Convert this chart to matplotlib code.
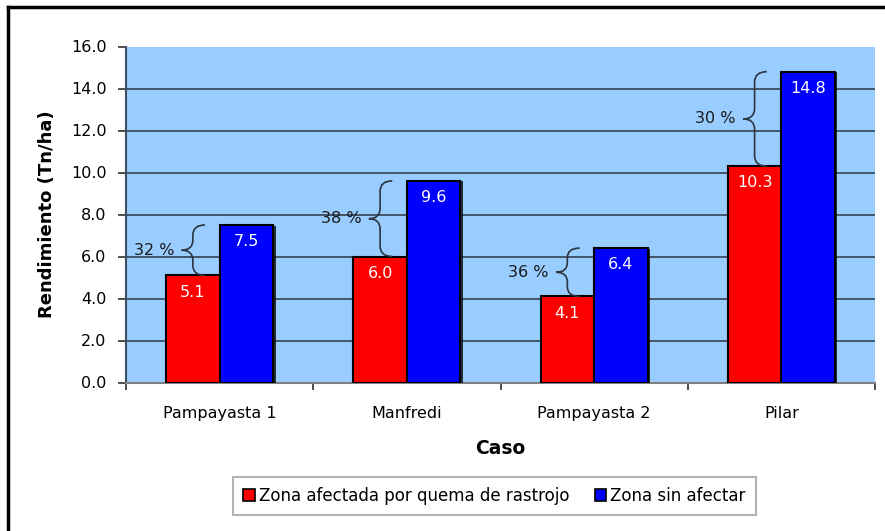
import matplotlib
matplotlib.use("Agg")
import matplotlib.pyplot as plt
from matplotlib.path import Path
from matplotlib.patches import PathPatch, Patch
from matplotlib.lines import Line2D
import matplotlib.patheffects as pe
import numpy as np

plt.rcParams['font.family'] = ['DejaVu Sans']

categories = ["Pampayasta 1", "Manfredi", "Pampayasta 2", "Pilar"]
afectada = [5.1, 6.0, 4.1, 10.3]
sin_afectar = [7.5, 9.6, 6.4, 14.8]
diferencias = ["32 %", "38 %", "36 %", "30 %"]
series_names = ["Zona afectada por quema de rastrojo", "Zona sin afectar"]
y_ticks = [0, 2, 4, 6, 8, 10, 12, 14, 16]

W, H = 885, 531
FS = 11.5
fig = plt.figure(figsize=(W / 100, H / 100), dpi=100)
fig.patch.set_facecolor('white')

ax = fig.add_axes([126 / W, 1 - 382.5 / H, (875 - 126) / W, (382.5 - 46.5) / H])
ax.set_facecolor('#99CCFF')

x = np.arange(len(categories))
w = 0.286
shadow = [pe.SimplePatchShadow(offset=(1.8, -0.4), shadow_rgbFace='#101010', alpha=0.85), pe.Normal()]
b1 = ax.bar(x - w / 2, afectada, w, color='#FF0000', edgecolor='black', linewidth=1.5, zorder=3)
b2 = ax.bar(x + w / 2, sin_afectar, w, color='#0000FF', edgecolor='black', linewidth=1.5, zorder=3)
for b in list(b1) + list(b2):
    b.set_path_effects(shadow)

for xi, v in zip(x - w / 2, afectada):
    ax.annotate(f"{v:.1f}", (xi, v), xytext=(0, -12), textcoords='offset points',
                ha='center', va='center', color='white', fontsize=FS, zorder=5)
for xi, v in zip(x + w / 2, sin_afectar):
    ax.annotate(f"{v:.1f}", (xi, v), xytext=(0, -12), textcoords='offset points',
                ha='center', va='center', color='white', fontsize=FS, zorder=5)

# braces
def brace(ax, xv, y0, y1, label):
    cw = 0.065
    tw = 0.06
    ym = (y0 + y1) / 2
    r = min(0.5, (y1 - y0) / 5)
    verts = [
        (xv + cw, y1), (xv, y1), (xv, y1 - r),
        (xv, ym + r),
        (xv, ym), (xv - tw, ym),
        (xv, ym), (xv, ym - r),
        (xv, y0 + r),
        (xv, y0), (xv + cw, y0),
    ]
    codes = [Path.MOVETO, Path.CURVE3, Path.CURVE3,
             Path.LINETO,
             Path.CURVE3, Path.CURVE3,
             Path.CURVE3, Path.CURVE3,
             Path.LINETO,
             Path.CURVE3, Path.CURVE3]
    ax.add_patch(PathPatch(Path(verts, codes), facecolor='none', edgecolor='#2a3540',
                           linewidth=1.2, zorder=4))
    ax.text(xv - tw - 0.04, ym, label, ha='right', va='center', fontsize=FS,
            color='#1a1a1a', zorder=5)

for xi, a, s, d in zip(x, afectada, sin_afectar, diferencias):
    brace(ax, xi - w / 2, a, s, d)

ax.set_xlim(-0.5, len(categories) - 0.5)
ax.set_ylim(0, 16)
ax.set_yticks(y_ticks)
ax.set_yticklabels([f"{t:.1f}" for t in y_ticks], fontsize=FS)
ax.yaxis.grid(True, color='#3c4c5c', linewidth=1.3, zorder=0)
ax.set_axisbelow(True)
ygl = ax.get_ygridlines()
ygl[-1].set_visible(False)
ygl[0].set_visible(False)

ax.set_xticks(np.arange(len(categories) + 1) - 0.5)
ax.set_xticklabels([])
ax.set_xticks(x, minor=True)
ax.set_xticklabels(categories, minor=True, fontsize=FS)
ax.tick_params(axis='x', which='minor', length=0, pad=17)
ax.tick_params(axis='x', which='major', length=5, color='#404040', width=1.3)
ax.tick_params(axis='y', length=6, color='#404040', width=1.3, pad=8)

for s in ['top', 'right']:
    ax.spines[s].set_visible(False)
ax.spines['left'].set_color('#405060')
ax.spines['left'].set_linewidth(1.5)
ax.spines['bottom'].set_color('#808080')
ax.spines['bottom'].set_linewidth(1.5)

fig.text(47 / W, 1 - 214.5 / H, "Rendimiento (Tn/ha)", rotation=90, ha='center', va='center',
         fontsize=13, fontweight='bold')
fig.text(500 / W, 1 - 448 / H, "Caso", ha='center', va='center', fontsize=13.5, fontweight='bold')

handles = [Patch(facecolor='#FF0000', edgecolor='black', linewidth=1.2),
           Patch(facecolor='#0000FF', edgecolor='black', linewidth=1.2)]
leg = fig.legend(handles, series_names, loc='center', bbox_to_anchor=(494.5 / W, 1 - 496 / H),
                 ncol=2, fontsize=12, frameon=True, fancybox=False, shadow=False,
                 handlelength=0.7, handleheight=0.7, handletextpad=0.25, columnspacing=1.5,
                 borderpad=0.6, borderaxespad=0)
leg.get_frame().set_edgecolor('#a0a0a0')
leg.get_frame().set_linewidth(1.5)

# outer border (top and left visible)
fig.add_artist(Line2D([8 / W, 8 / W], [0, 1 - 7 / H], color='black', linewidth=2.5))
fig.add_artist(Line2D([8 / W, 1], [1 - 7 / H, 1 - 7 / H], color='black', linewidth=2.5))

fig.savefig("out.png", dpi=100)
